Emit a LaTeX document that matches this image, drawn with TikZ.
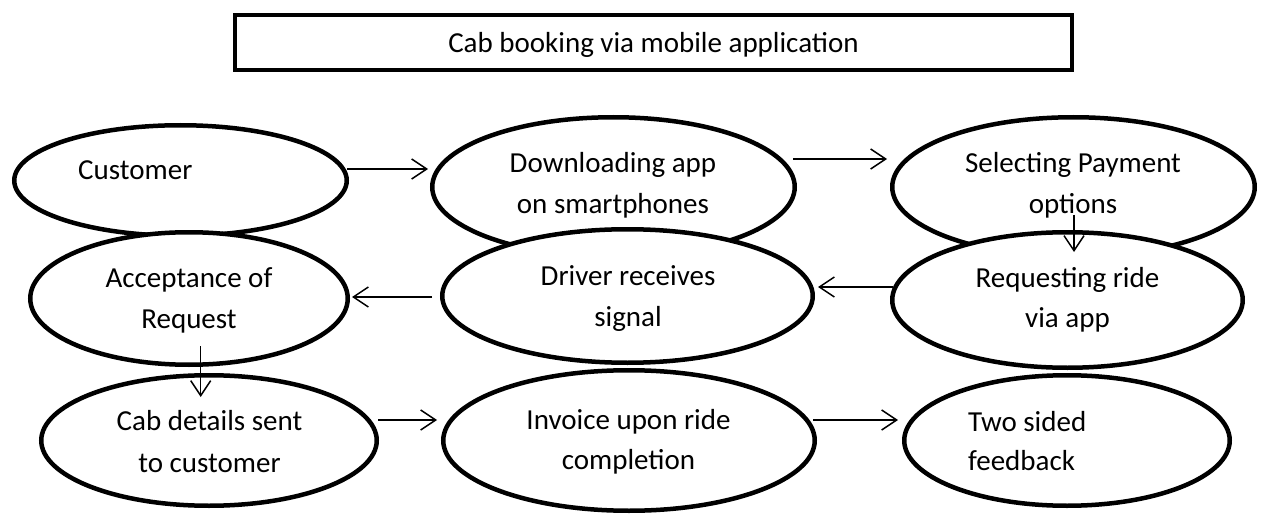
\documentclass[tikz,border=0pt]{standalone}
\usepackage{fontspec}
\setmainfont{Carlito}
\usetikzlibrary{shapes.geometric,arrows.meta,calc}
\begin{document}
\begin{tikzpicture}[x=1pt,y=1pt,
  ell/.style={ellipse,draw=black,line width=4.5pt,fill=white,inner sep=0pt},
  lbl/.style={inner sep=0pt,anchor=base,font=\fontsize{29}{35}\selectfont},
  lblw/.style={lbl,anchor=base west},
  titlebox/.style={rectangle,draw=black,line width=4.5pt,fill=white,inner sep=0pt},
  arr/.style={line width=1.5pt,-{Straight Barb[length=15pt,width=20pt,line width=1.5pt]}}]
\useasboundingbox (0,0) rectangle (1262,-516);
% title
\node[titlebox,minimum width=837pt,minimum height=55pt] (title) at (653.5,-42.5) {};
\node[lbl] (titletext) at (653.5,-53) {Cab booking via mobile application};
% row 1
\node[ell,minimum width=332.5pt,minimum height=110.5pt] (cust) at (180.5,-180.5) {};
\node[ell,minimum width=362.5pt,minimum height=139.5pt] (down) at (613.5,-187) {};
\node[ell,minimum width=362.5pt,minimum height=139.5pt] (sel) at (1073.5,-187) {};
% row 2
\node[ell,minimum width=317.5pt,minimum height=132.5pt] (acc) at (189,-298.5) {};
\node[ell,minimum width=370.5pt,minimum height=133.5pt] (drv) at (627.5,-296) {};
\node[ell,minimum width=350.5pt,minimum height=135.5pt] (req) at (1067.5,-300) {};
% row 3
\node[ell,minimum width=335.5pt,minimum height=130.5pt] (cab) at (209,-440.5) {};
\node[ell,minimum width=371.5pt,minimum height=140.5pt] (inv) at (629,-440.5) {};
\node[ell,minimum width=325.5pt,minimum height=130.5pt] (two) at (1067,-440.5) {};
% texts
\node[lblw] (custt) at (78,-180) {Customer};
\node[lbl] (downa) at (613,-173) {Downloading app};
\node[lbl] (downb) at (613,-214) {on smartphones};
\node[lbl] (sela) at (1073,-173) {Selecting Payment};
\node[lbl] (selb) at (1073,-214) {options};
\node[lbl] (acca) at (189,-287) {Acceptance of};
\node[lbl] (accb) at (189,-328) {Request};
\node[lbl] (drva) at (628,-285) {Driver receives};
\node[lbl] (drvb) at (628,-326) {signal};
\node[lbl] (reqa) at (1067.5,-287) {Requesting ride};
\node[lbl] (reqb) at (1067.5,-327) {via app};
\node[lbl] (caba) at (209.5,-430) {Cab details sent};
\node[lbl] (cabb) at (209.5,-472) {to customer};
\node[lbl] (inva) at (628.5,-429) {Invoice upon ride};
\node[lbl] (invb) at (628.5,-469) {completion};
\node[lblw] (twoa) at (968,-431) {Two sided};
\node[lblw] (twob) at (968,-470) {feedback};
% connectors
\draw[arr] ($(cust.center)+(166.5,11.5)$) -- ($(down.center)+(-185.5,18)$);
\draw[arr] ($(down.center)+(179.5,28)$) -- ($(sel.center)+(-186.5,28)$);
\draw[arr] ($(sel.center)+(0.5,-28)$) -- ($(req.center)+(6.5,48)$);
\draw[arr] ($(req.center)+(-174.5,13)$) -- ($(drv.center)+(190.5,9)$);
\draw[arr] ($(drv.center)+(-195.5,-1)$) -- ($(acc.center)+(163,1.5)$);
\draw[arr] ($(acc.center)+(11.7,-47.5)$) -- ($(cab.center)+(-8.3,43.5)$);
\draw[arr] ($(cab.center)+(169,20.5)$) -- ($(inv.center)+(-192,20.5)$);
\draw[arr] ($(inv.center)+(184,20.5)$) -- ($(two.center)+(-169,20.5)$);
\end{tikzpicture}
\end{document}
